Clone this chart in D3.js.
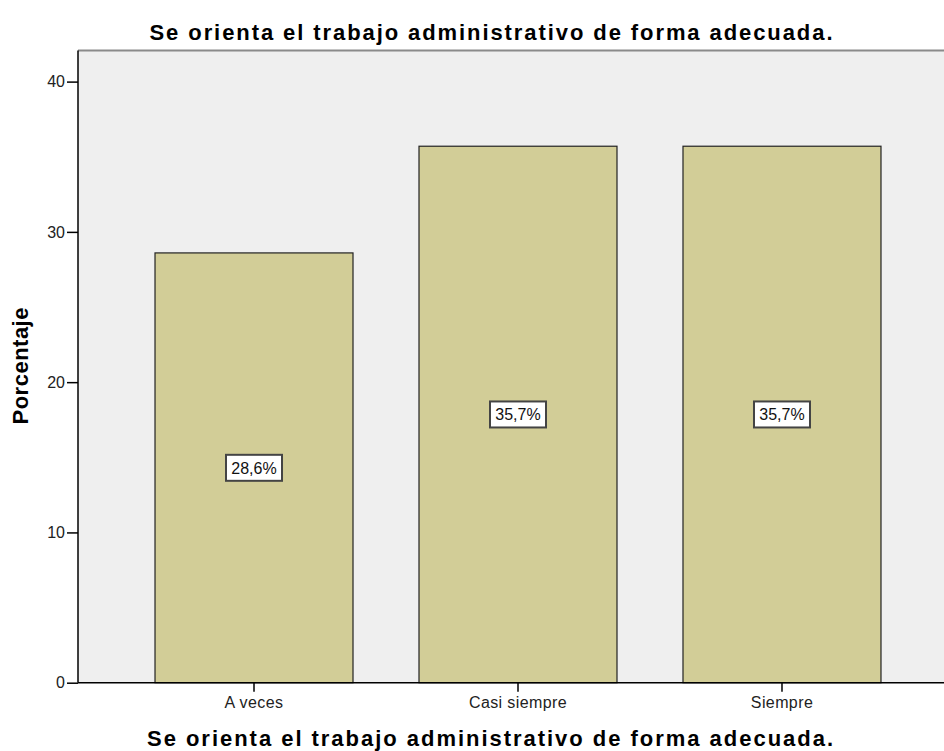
<!DOCTYPE html>
<html>
<head>
  <meta charset="utf-8">
  <title>Se orienta el trabajo administrativo</title>
  <style>
    body { margin: 0; background: #fff; }
    svg text { font-family: Arial, "Liberation Sans", sans-serif; }
  </style>
</head>
<body>
  <svg width="944" height="751"></svg>
  <script src="https://d3js.org/d3.v7.min.js"></script>
  <script>
    const categories = ["A veces", "Casi siempre", "Siempre"];
    const values = [28.6, 35.7, 35.7];
    const labels = ["28,6%", "35,7%", "35,7%"];
    const yTicks = [0, 10, 20, 30, 40];
    const title = "Se orienta el trabajo administrativo de forma adecuada.";

    const svg = d3.select("svg");
    const mLeft = 78, mTop = 50.5, mBottom = 682.7, mRight = 958;

    const x = d3.scaleBand()
      .domain(categories)
      .range([mLeft, mRight])
      .paddingInner(0.25)
      .paddingOuter(0.2917);

    const y = d3.scaleLinear()
      .domain([0, 42.07])
      .range([mBottom, mTop]);

    // plot background
    svg.append("rect")
      .attr("x", mLeft).attr("y", mTop)
      .attr("width", 944 - mLeft).attr("height", mBottom - mTop)
      .attr("fill", "#efefef");
    svg.append("line")
      .attr("x1", mLeft).attr("x2", 944)
      .attr("y1", mTop).attr("y2", mTop)
      .attr("stroke", "#8a8a8a").attr("stroke-width", 2);

    // bars
    svg.append("g").selectAll("rect")
      .data(values)
      .join("rect")
      .attr("x", (d, i) => x(categories[i]))
      .attr("y", d => y(d))
      .attr("width", x.bandwidth())
      .attr("height", d => y(0) - y(d))
      .attr("fill", "#d2cd97")
      .attr("stroke", "#222")
      .attr("stroke-width", 1.2);

    // value labels
    const lab = svg.append("g").selectAll("g")
      .data(values)
      .join("g")
      .attr("transform", (d, i) => `translate(${x(categories[i]) + x.bandwidth() / 2},${y(d / 2)})`);
    lab.append("rect")
      .attr("x", -28).attr("y", -13)
      .attr("width", 56).attr("height", 26)
      .attr("fill", "#fff").attr("stroke", "#444").attr("stroke-width", 2);
    lab.append("text")
      .attr("text-anchor", "middle")
      .attr("dy", "0.36em")
      .attr("font-size", 16)
      .attr("fill", "#111")
      .text((d, i) => labels[i]);

    // axes
    const yAxis = svg.append("g")
      .attr("transform", `translate(${mLeft},0)`)
      .call(d3.axisLeft(y).tickValues(yTicks).tickSize(11).tickPadding(2));
    yAxis.select(".domain").attr("stroke", "#000").attr("stroke-width", 1.5).attr("d", `M0,${mTop}V${mBottom}`);
    yAxis.selectAll(".tick line").attr("stroke", "#000").attr("stroke-width", 1.5);
    yAxis.selectAll(".tick text").attr("font-size", 16).attr("fill", "#222");

    const xAxis = svg.append("g")
      .attr("transform", `translate(0,${mBottom})`)
      .call(d3.axisBottom(x).tickSize(9).tickPadding(5));
    xAxis.select(".domain").attr("stroke", "#000").attr("stroke-width", 1.5).attr("d", `M${mLeft},0H944`);
    xAxis.selectAll(".tick line").attr("stroke", "#000").attr("stroke-width", 1.5);
    xAxis.selectAll(".tick text").attr("font-size", 16).attr("fill", "#222").attr("letter-spacing", 0.4);

    // titles
    svg.append("text")
      .attr("x", 491).attr("y", 40)
      .attr("text-anchor", "middle")
      .attr("font-size", 22).attr("font-weight", "bold")
      .attr("textLength", 683).attr("lengthAdjust", "spacing")
      .text(title);
    svg.append("text")
      .attr("x", 490).attr("y", 746)
      .attr("text-anchor", "middle")
      .attr("font-size", 22).attr("font-weight", "bold")
      .attr("textLength", 686).attr("lengthAdjust", "spacing")
      .text(title);
    svg.append("text")
      .attr("transform", "translate(28,366) rotate(-90)")
      .attr("text-anchor", "middle")
      .attr("font-size", 22).attr("font-weight", "bold")
      .attr("textLength", 117).attr("lengthAdjust", "spacing")
      .text("Porcentaje");
  </script>
</body>
</html>
